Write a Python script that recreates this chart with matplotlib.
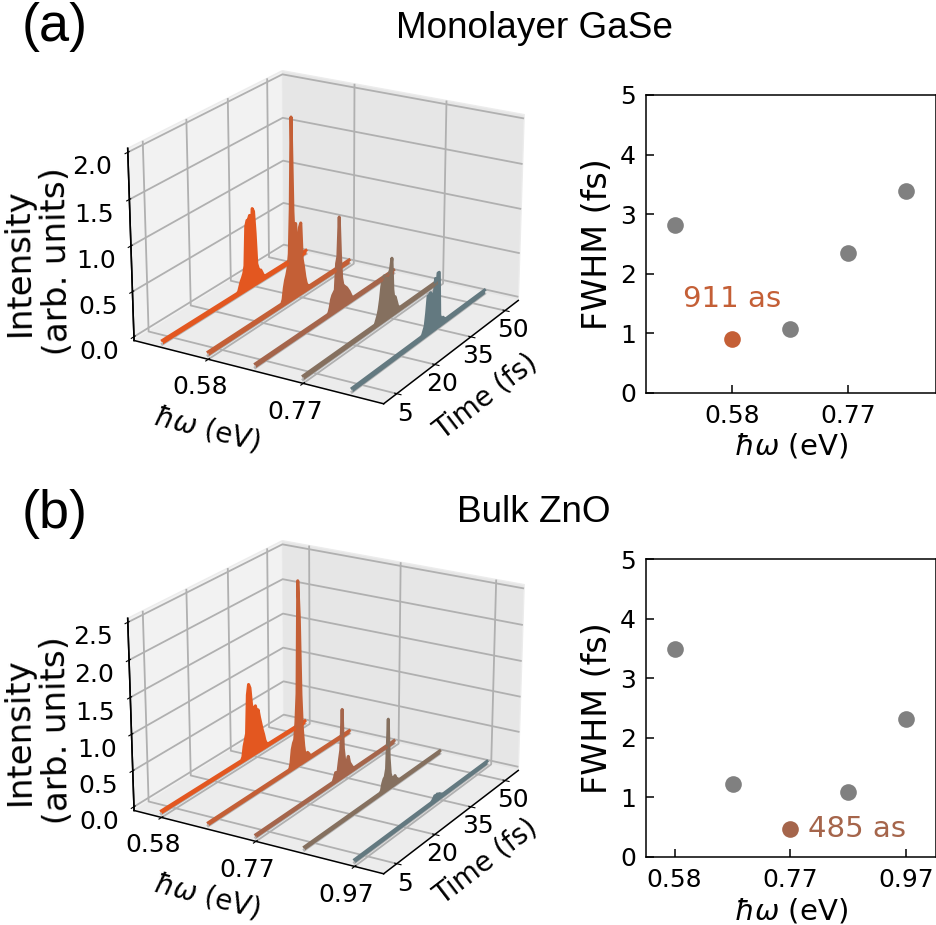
import numpy as np
import matplotlib
matplotlib.use('Agg')
import matplotlib.pyplot as plt

colors = ['#e35720', '#c45f36', '#a5654b', '#85705f', '#637980']

# pulse part of each trace (same time grid inside a panel)
a_pulse_t = [27.0, 27.5, 28.0, 28.5, 29.0, 29.5, 30.0, 30.5, 31.0, 31.5, 32.0, 32.5,
             33.0, 33.5, 34.0, 34.5, 35.0, 35.5, 36.0, 36.5, 37.0, 37.5, 38.0, 38.5]
b_pulse_t = [29.0, 29.5, 30.0, 30.5, 31.0, 31.5, 32.0, 32.5, 33.0, 33.5, 34.0, 34.5,
             35.0, 35.5, 36.0, 36.5, 37.0, 37.5, 38.0, 38.5, 39.0, 39.5, 40.0, 40.5]

a_energy = [0.484, 0.58, 0.677, 0.773, 0.869]
a_traces = [
    [0.04, 0.05, 0.10, 0.15, 0.18, 0.22, 0.30, 0.74, 0.80, 0.80, 0.84, 0.60,
     0.90, 0.86, 0.60, 0.24, 0.18, 0.14, 0.14, 0.10, 0.06, 0.04, 0.04, 0.04],
    [0.04, 0.08, 0.20, 0.28, 0.33, 0.40, 0.55, 1.05, 2.05, 1.00, 0.60, 0.85,
     0.60, 0.55, 0.78, 0.82, 0.40, 0.30, 0.18, 0.10, 0.06, 0.04, 0.04, 0.04],
    [0.04, 0.05, 0.10, 0.18, 0.22, 0.24, 0.26, 0.55, 0.62, 1.05, 0.62, 0.35,
     0.26, 0.24, 0.22, 0.20, 0.17, 0.14, 0.10, 0.06, 0.04, 0.04, 0.04, 0.04],
    [0.04, 0.04, 0.08, 0.12, 0.18, 0.28, 0.42, 0.50, 0.52, 0.50, 0.50, 0.48,
     0.50, 0.55, 0.66, 0.30, 0.18, 0.20, 0.14, 0.08, 0.05, 0.04, 0.04, 0.04],
    [0.04, 0.05, 0.09, 0.13, 0.26, 0.44, 0.44, 0.46, 0.44, 0.38, 0.38, 0.58,
     0.44, 0.62, 0.62, 0.14, 0.08, 0.07, 0.08, 0.05, 0.04, 0.04, 0.04, 0.04],
]
a_fwhm = [2.81, 0.91, 1.07, 2.35, 3.38]
a_ticks = [0.58, 0.773]

b_energy = [0.58, 0.677, 0.773, 0.869, 0.966]
b_traces = [
    [0.04, 0.08, 0.22, 0.30, 0.38, 0.92, 1.06, 1.00, 0.76, 0.62, 0.68, 0.70,
     0.58, 0.62, 0.50, 0.40, 0.30, 0.22, 0.12, 0.07, 0.04, 0.04, 0.04, 0.04],
    [0.04, 0.04, 0.04, 0.12, 0.30, 0.38, 0.42, 0.65, 1.05, 2.60, 2.10, 1.00,
     0.50, 0.25, 0.10, 0.08, 0.12, 0.09, 0.05, 0.04, 0.04, 0.04, 0.04, 0.04],
    [0.04, 0.09, 0.15, 0.07, 0.16, 0.30, 0.42, 0.98, 0.42, 0.25, 0.18, 0.20,
     0.26, 0.16, 0.12, 0.08, 0.05, 0.04, 0.04, 0.04, 0.04, 0.04, 0.04, 0.04],
    [0.04, 0.06, 0.15, 0.20, 0.22, 0.32, 1.00, 0.45, 0.22, 0.15, 0.12, 0.12,
     0.14, 0.09, 0.07, 0.05, 0.04, 0.04, 0.04, 0.04, 0.04, 0.04, 0.04, 0.04],
    [0.04, 0.04, 0.04, 0.05, 0.07, 0.10, 0.08, 0.10, 0.08, 0.08, 0.06, 0.05,
     0.04, 0.04, 0.04, 0.04, 0.04, 0.04, 0.04, 0.04, 0.04, 0.04, 0.04, 0.04],
]
b_fwhm = [3.5, 1.23, 0.47, 1.1, 2.32]
b_ticks = [0.58, 0.773, 0.966]

time_ticks = [5, 20, 35, 50]
fwhm_ticks = [0, 1, 2, 3, 4, 5]
t_start = 0
t_end = 54

plt.rcParams['font.size'] = 18
plt.rcParams['grid.linewidth'] = 1.3
plt.rcParams['axes.linewidth'] = 1.1
plt.rcParams['axes3d.automargin'] = True
label_font = ['Liberation Sans', 'DejaVu Sans']


def draw_3d(rect, energy, pulse_t, traces, zlim, zticks, xlim, xticks):
    ax = fig.add_axes(rect, projection='3d')
    ax.view_init(elev=21.5, azim=-59.5)
    ax.set_box_aspect((4, 4, 2.85))
    ax.set_xlim(xlim)
    ax.set_ylim(1.12, 54.88)
    ax.set_zlim(zlim)
    for e, trace, c in zip(energy, traces, colors):
        t = [t_start] + pulse_t + [t_end]
        z = [0.04] + trace + [0.04]
        ax.plot([e, e], [t_start, t_end], [0, 0], color='#b5b5b5', lw=2.2)
        x = np.full(len(t), e)
        ax.fill_between(x, t, 0, x, t, z, color=c, linewidth=0)
        ax.plot(x, t, z, color=c, lw=2.2)
    # the z spine at the front left corner
    x0 = ax.get_xlim()[0]
    y0 = ax.get_ylim()[0]
    ax.plot([x0, x0], [y0, y0], ax.get_zlim(), color='black', lw=1.1)
    ax.set_xticks(xticks)
    ax.set_xticklabels(['%.2f' % v for v in xticks])
    ax.set_yticks(time_ticks)
    ax.set_zticks(zticks)
    ax.tick_params(axis='x', pad=1)
    ax.tick_params(axis='y', pad=-3)
    ax.tick_params(axis='z', pad=6)
    ax.zaxis.set_ticks_position('lower')
    ax.xaxis.set_pane_color((0.95, 0.95, 0.95, 1))
    ax.yaxis.set_pane_color((0.90, 0.90, 0.90, 1))
    ax.zaxis.set_pane_color((0.925, 0.925, 0.925, 1))
    for axis in [ax.xaxis, ax.yaxis, ax.zaxis]:
        axis.pane.set_edgecolor('#ececec')
    return ax


def draw_fwhm(rect, energy, fwhm, mark, xlim, xticks, note, note_xy):
    ax = fig.add_axes(rect)
    for i, (e, f) in enumerate(zip(energy, fwhm)):
        ax.plot(e, f, 'o', ms=12, mec='none', color=colors[mark] if i == mark else 'gray')
    ax.text(note_xy[0], note_xy[1], note, color=colors[mark], fontsize=21, va='center')
    ax.set_xlim(xlim)
    ax.set_ylim(0, 5)
    ax.set_xticks(xticks)
    ax.set_xticklabels(['%.2f' % v for v in xticks])
    ax.set_yticks(fwhm_ticks)
    ax.tick_params(direction='in', length=6, width=1.1, labelsize=18)
    ax.tick_params(axis='x', pad=8)
    ax.tick_params(axis='y', pad=7)
    ax.set_xlabel(r'$\hbar\omega$ (eV)', fontsize=21, labelpad=3)
    ax.set_ylabel('FWHM (fs)', fontsize=24, labelpad=4)
    return ax


def put_text(x, y, s, **kw):
    fig.text(x / 937, 1 - y / 925, s, ha='center', va='center', **kw)


fig = plt.figure(figsize=(9.37, 9.25), dpi=100)

size = 438
draw_3d([(324 - size / 2) / 937, 1 - (233 + size / 2) / 925, size / 937, size / 925],
        a_energy, a_pulse_t, a_traces, (0, 2), [0, 0.5, 1, 1.5, 2], (0.433, 0.9197), a_ticks)
draw_3d([(324 - size / 2) / 937, 1 - (703 + size / 2) / 925, size / 937, size / 925],
        b_energy, b_pulse_t, b_traces, (0, 2.5), [0, 0.5, 1, 1.5, 2, 2.5], (0.532, 1.011), b_ticks)

draw_fwhm([645.7 / 937, 1 - 392.7 / 925, 290 / 937, 297.7 / 925], a_energy, a_fwhm, 1,
          (0.436, 0.9187), a_ticks, '911 as', (0.498, 1.57))
draw_fwhm([645.7 / 937, 1 - 857 / 925, 290 / 937, 297.7 / 925], b_energy, b_fwhm, 2,
          (0.532, 1.015), b_ticks, '485 as', (0.803, 0.47))

# axis titles of the 3d panels sit where the picture has them
for hw_y, time_y, int_y in [(429, 397, 262), (896, 862, 731)]:
    put_text(207, hw_y, r'$\hbar\omega$ (eV)', fontsize=20, rotation=-14.5)
    put_text(486, time_y, 'Time (fs)', fontsize=20, rotation=37.5)
    put_text(38, int_y, 'Intensity\n(arb. units)', fontsize=24.5, rotation=91)

fig.text(22 / 937, 1 - 27 / 925, '(a)', fontsize=39, va='center', family=label_font)
fig.text(22 / 937, 1 - 514 / 925, '(b)', fontsize=39, va='center', family=label_font)
put_text(534, 28, 'Monolayer GaSe', fontsize=26.6, family=label_font)
put_text(534, 513, 'Bulk ZnO', fontsize=26.6, family=label_font)

fig.savefig('out.png', dpi=100)
